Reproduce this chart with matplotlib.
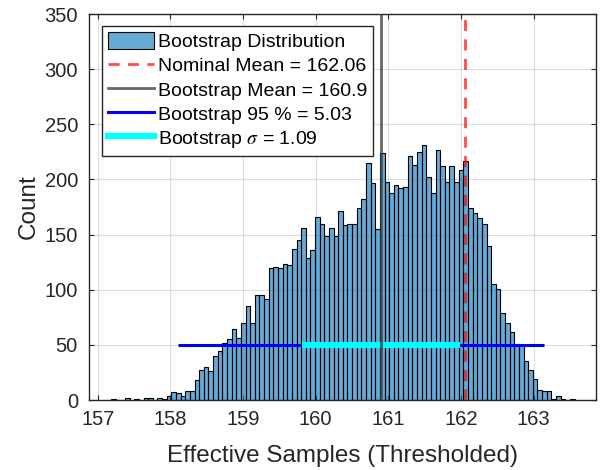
import numpy as np
import matplotlib
matplotlib.use("Agg")
import matplotlib.pyplot as plt
from matplotlib.lines import Line2D
from matplotlib.patches import Patch

plt.rcParams['font.family'] = ['Liberation Sans', 'DejaVu Sans']
plt.rcParams['mathtext.fontset'] = 'stix'

# ---- data ----
bin_lo, bin_hi, n_bins = 157.185, 163.565, 100
counts = [1, 0, 0, 2, 0, 1, 0, 2, 2, 0,
          2, 1, 4, 7, 6, 4, 8, 8, 18, 27,
          30, 26, 40, 44, 52, 55, 64, 56, 70, 85,
          70, 95, 95, 92, 120, 121, 120, 123, 122, 137,
          145, 156, 129, 136, 166, 160, 149, 156, 149, 171,
          159, 160, 160, 174, 182, 215, 197, 155, 224, 198,
          188, 195, 192, 193, 221, 213, 225, 231, 202, 188,
          227, 212, 198, 212, 198, 209, 217, 174, 170, 165,
          160, 140, 105, 101, 79, 70, 62, 51, 50, 35,
          27, 19, 9, 8, 8, 1, 4, 1, 0, 1]
nominal_mean = 162.06
boot_mean = 160.9
ci95 = [158.11, 163.14]
boot_sigma = 1.09
bar_level = 50
xticks = [157, 158, 159, 160, 161, 162, 163]
yticks = [0, 50, 100, 150, 200, 250, 300, 350]

labels = ['Bootstrap Distribution',
          'Nominal Mean = 162.06',
          'Bootstrap Mean = 160.9',
          'Bootstrap 95 % = 5.03',
          r'Bootstrap $\sigma$ = 1.09']

# ---- figure ----
fig = plt.figure(figsize=(6.05, 4.7), dpi=100)
ax = fig.add_axes([89/605, 70/470, 507/605, 386/470])

edges = np.linspace(bin_lo, bin_hi, n_bins + 1)
centers = 0.5 * (edges[:-1] + edges[1:])
face = (0.0, 0.447, 0.741, 0.6)
ax.hist(centers, bins=edges, weights=counts, facecolor=face,
        edgecolor='black', linewidth=0.8, zorder=2)

ax.hlines(bar_level, ci95[0], ci95[1], color=(0, 0, 1), linewidth=2.2, zorder=3)
ax.hlines(bar_level, boot_mean - boot_sigma, boot_mean + boot_sigma,
          color=(0, 1, 1), linewidth=4.5, zorder=4)
ax.axvline(nominal_mean, color=(1, 0, 0), alpha=0.7, linestyle=(0, (4, 3)),
           linewidth=2.0, zorder=5)
ax.axvline(boot_mean, color=(0.25, 0.25, 0.25), alpha=0.8, linewidth=2.0, zorder=5)

ax.set_xlim(156.88, 163.86)
ax.set_ylim(0, 350)
ax.set_xticks(xticks)
ax.set_yticks(yticks)
ax.set_xticklabels([str(t) for t in xticks])
ax.set_yticklabels([str(t) for t in yticks])

dk = (0.15, 0.15, 0.15)
ax.grid(True, color=dk, alpha=0.15, linewidth=0.8, zorder=0)
ax.set_axisbelow(True)
ax.tick_params(direction='in', length=3.5, width=0.8, colors=dk, labelsize=14.5,
               top=True, right=True, labelcolor=dk)
ax.tick_params(axis='x', pad=7)
ax.tick_params(axis='y', pad=8)
for s in ax.spines.values():
    s.set_color(dk)
    s.set_linewidth(1.0)

ax.set_xlabel('Effective Samples (Thresholded)', fontsize=17.5, color=dk, labelpad=12)
ax.set_ylabel('Count', fontsize=17.5, color=dk, labelpad=3)

handles = [Patch(facecolor=face, edgecolor='black', linewidth=0.8),
           Line2D([], [], color=(1, 0, 0), alpha=0.7, linestyle=(0, (4, 3)), linewidth=2.0),
           Line2D([], [], color=(0.25, 0.25, 0.25), alpha=0.8, linewidth=2.0),
           Line2D([], [], color=(0, 0, 1), linewidth=2.2),
           Line2D([], [], color=(0, 1, 1), linewidth=4.5)]
leg = ax.legend(handles, labels, loc='upper left',
                bbox_to_anchor=(101.7/605, (470-26)/470), bbox_transform=fig.transFigure,
                borderaxespad=0, fontsize=14, handlelength=2.4, handleheight=1.0,
                handletextpad=0.2, labelspacing=0.25, borderpad=0.3,
                fancybox=False, framealpha=1, edgecolor=dk)
leg.get_frame().set_linewidth(1.0)

fig.savefig('out.png', dpi=100)
